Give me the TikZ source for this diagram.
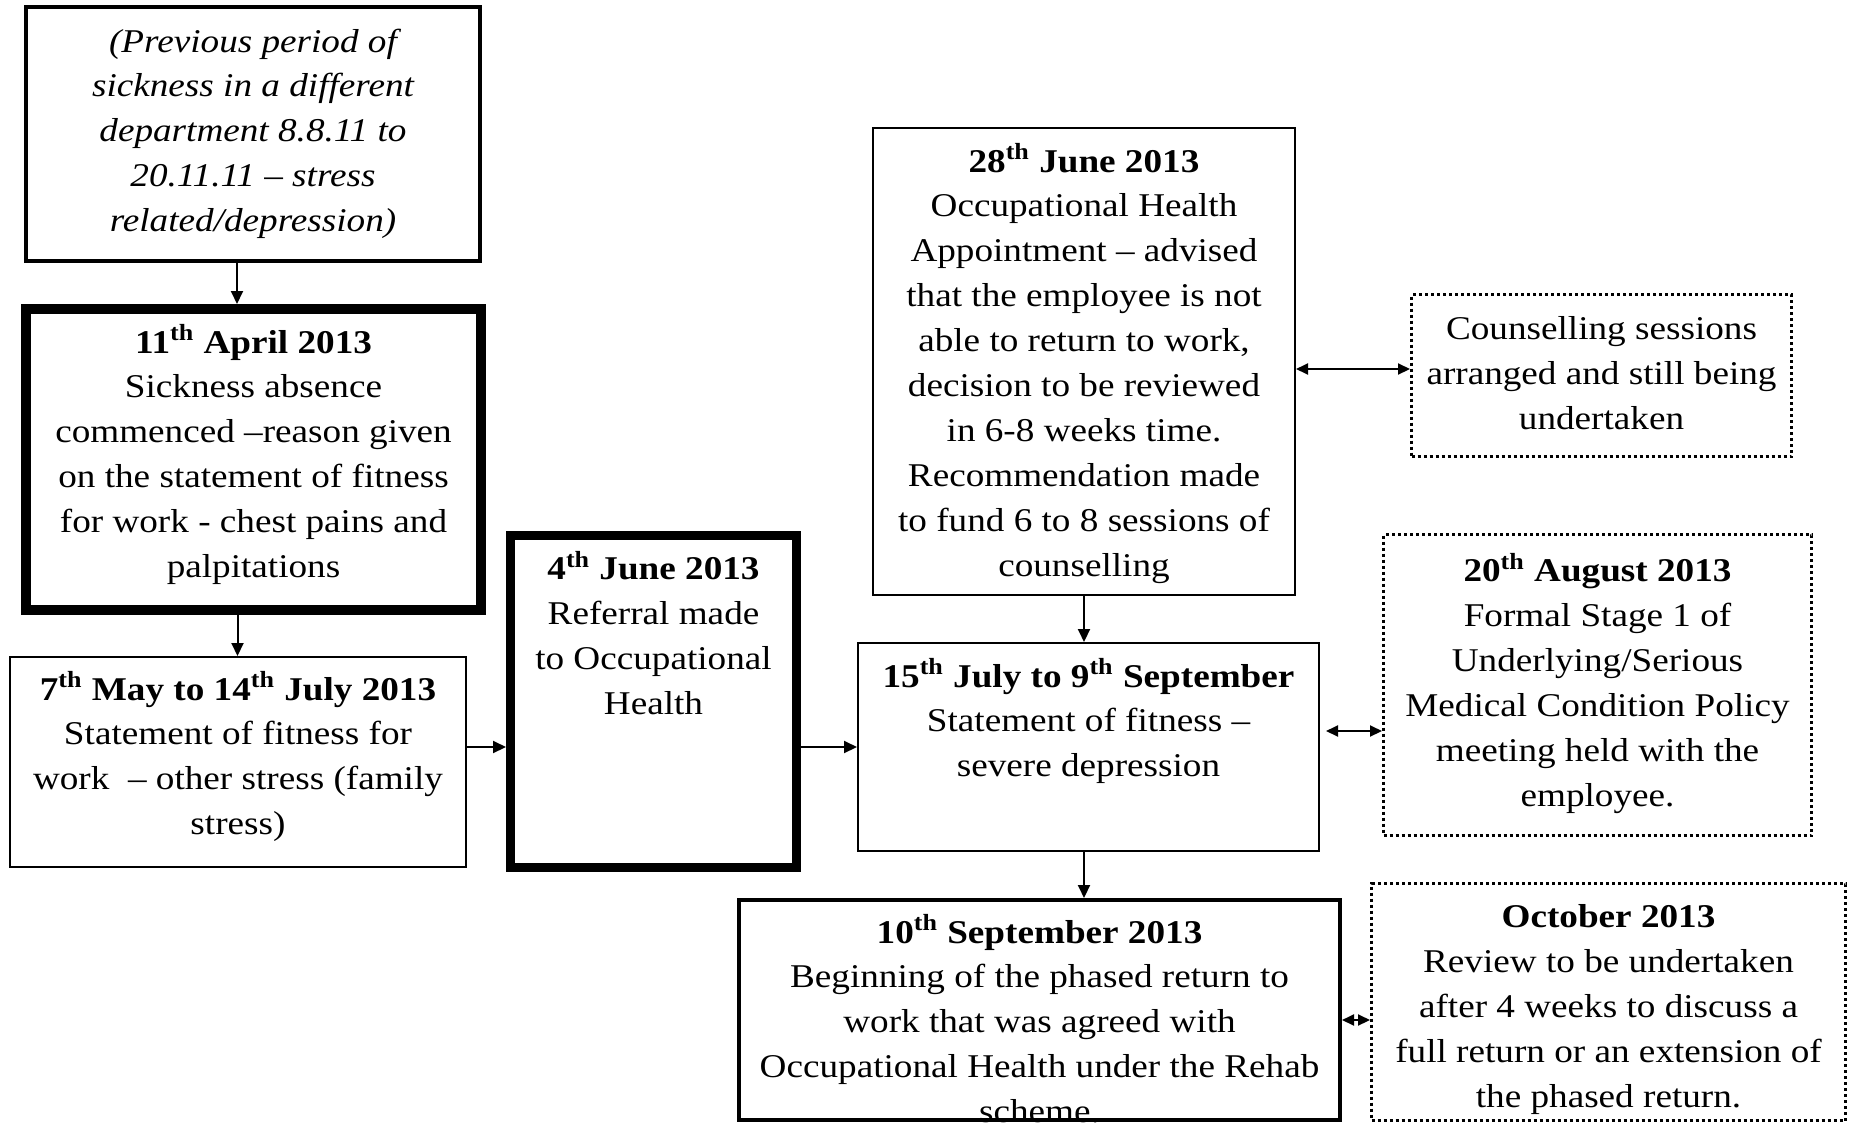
\documentclass[tikz,border=0pt]{standalone}
\usepackage{fontspec}
\setmainfont[FakeStretch=1.12]{Liberation Serif}
\usetikzlibrary{arrows.meta}
\newcommand{\boxtxt}[4]{\parbox[c][#2][t]{#1}{\centering\vspace*{#3}\strut#4}}
\begin{document}
\begin{tikzpicture}[x=0.5pt,y=-0.5pt,
  every node/.style={font=\fontsize{16.6pt}{22.45pt}\selectfont},
  sbox/.style={draw, rectangle, inner sep=0pt},
  dbox/.style={draw, rectangle, inner sep=0pt, line width=1.5pt, dash pattern=on 1.5pt off 1.5pt},
  arr/.style={line width=1pt, -{Triangle[length=6.5pt,width=6pt]}},
  darr/.style={line width=1pt, {Triangle[length=6pt,width=5.5pt]}-{Triangle[length=6pt,width=5.5pt]}}]
\useasboundingbox (0,0) rectangle (1852,1124);
\clip (0,0) rectangle (1852,1124);

\node[sbox, line width=2pt] (A) at (253,134)
  {\boxtxt{227pt}{127pt}{6.8pt}{\itshape (Previous period of\\ sickness in a different\\ department 8.8.11 to\\ 20.11.11 – stress\\ related/depression)}};

\node[sbox, line width=5pt] (B) at (253.5,459.5)
  {\boxtxt{227.5pt}{150.5pt}{6.3pt}{\textbf{11\textsuperscript{th} April 2013}\\ Sickness absence\\ commenced –reason given\\ on the statement of fitness\\ for work - chest pains and\\ palpitations}};

\node[sbox, line width=1pt] (C) at (238,762)
  {\boxtxt{228pt}{105pt}{5.8pt}{\textbf{7\textsuperscript{th} May to 14\textsuperscript{th} July 2013}\\ Statement of fitness for\\ work\ \ – other stress (family\\ stress)}};

\node[sbox, line width=4.5pt] (D) at (653.5,701.5)
  {\boxtxt{143pt}{166pt}{6.5pt}{\textbf{4\textsuperscript{th} June 2013}\\ Referral made\\ to Occupational\\ Health}};

\node[sbox, line width=1pt] (E) at (1084,361.5)
  {\boxtxt{211pt}{233.5pt}{6.3pt}{\textbf{28\textsuperscript{th} June 2013}\\ Occupational Health\\ Appointment – advised\\ that the employee is not\\ able to return to work,\\ decision to be reviewed\\ in 6-8 weeks time.\\ Recommendation made\\ to fund 6 to 8 sessions of\\ counselling}};

\node[dbox] (F) at (1601.5,375.5)
  {\boxtxt{190pt}{81pt}{7pt}{Counselling sessions\\ arranged and still being\\ undertaken}};

\node[sbox, line width=1pt] (G) at (1088.5,747)
  {\boxtxt{230.5pt}{104pt}{6.3pt}{\textbf{15\textsuperscript{th} July to 9\textsuperscript{th} September}\\ Statement of fitness –\\ severe depression}};

\node[dbox] (H) at (1597.5,685)
  {\boxtxt{214pt}{150.5pt}{8pt}{\textbf{20\textsuperscript{th} August 2013}\\ Formal Stage 1 of\\ Underlying/Serious\\ Medical Condition Policy\\ meeting held with the\\ employee.}};

\node[sbox, line width=2pt] (I) at (1039.5,1010)
  {\boxtxt{300.5pt}{110pt}{5.8pt}{\textbf{10\textsuperscript{th} September 2013}\\ Beginning of the phased return to\\ work that was agreed with\\ Occupational Health under the Rehab\\ scheme.}};

\node[dbox] (J) at (1608.5,1002)
  {\boxtxt{237pt}{118.5pt}{6.5pt}{\textbf{October 2013}\\ Review to be undertaken\\ after 4 weeks to discuss a\\ full return or an extension of\\ the phased return.}};

% connectors
\draw[arr] ([xshift=-8pt]A.south) -- ([xshift=-8pt]A.south |- B.north);
\draw[arr] ([xshift=-8pt]B.south) -- ([xshift=-8pt]B.south |- C.north);
\draw[arr] ([yshift=7.5pt]C.east) -- ([yshift=7.5pt]C.east -| D.west);
\draw[arr] (D.east |- G.west) -- (G.west);
\draw[arr] (E.south) -- (E.south |- G.north);
\draw[darr] ([yshift=-3.75pt]E.east) -- ([yshift=-3.75pt]E.east -| F.west);
\draw[darr] ([xshift=3pt,yshift=8pt]G.east) -- ([yshift=8pt]G.east -| H.west);
\draw[arr] ([xshift=-2.25pt]G.south) -- ([xshift=-2.25pt]G.south |- I.north);
\draw[darr] ([yshift=-5pt]I.east) -- ([yshift=-5pt]I.east -| J.west);
\end{tikzpicture}
\end{document}
